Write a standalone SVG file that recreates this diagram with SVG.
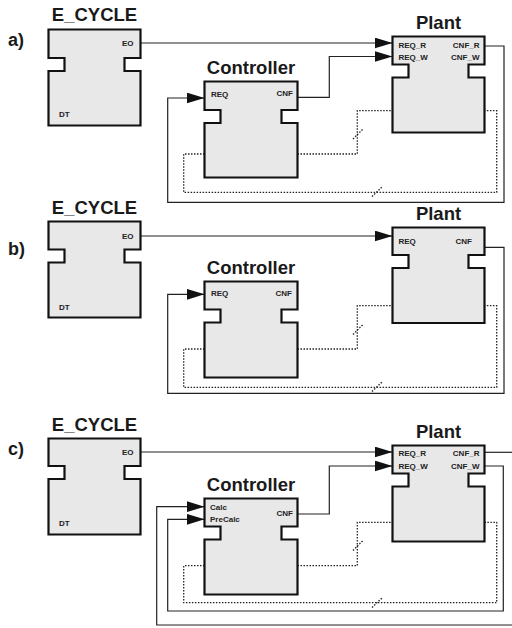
<svg xmlns="http://www.w3.org/2000/svg" width="512" height="628" viewBox="0 0 512 628">
<style>
.blk{fill:#e8e8e8;stroke:#111;stroke-width:2.2;stroke-linejoin:miter}
.title{font-family:"Liberation Sans",Arial,sans-serif;font-weight:bold;font-size:18.5px;fill:#1a1a1a;text-anchor:middle}
.sec{font-family:"Liberation Sans",Arial,sans-serif;font-weight:bold;font-size:18px;fill:#1a1a1a}
.port{font-family:"Liberation Sans",Arial,sans-serif;font-weight:bold;font-size:8px;fill:#222}
.r{text-anchor:end}
.ln{fill:none;stroke:#222;stroke-width:1.2}
.arr{marker-end:url(#ah)}
.dot{fill:none;stroke:#222;stroke-width:1.3;stroke-dasharray:1.5 1.5}
</style>
<defs>
<marker id="ah" markerUnits="userSpaceOnUse" markerWidth="18" markerHeight="11" refX="18" refY="5.5" orient="auto">
<path d="M0,0 L18,5.5 L0,11 Z" fill="#111"/>
</marker>
</defs>

<text class="sec" x="8" y="45.5">a)</text>
<text class="sec" x="8" y="255">b)</text>
<text class="sec" x="8" y="455">c)</text>

<g id="connectors">
<!-- a -->
<path class="ln arr" d="M140.5,43 H392.5"/>
<path class="ln arr" d="M297.5,97.3 H329.3 V56.5 H392.5"/>
<path class="ln arr" d="M484.5,46 H504 V202.3 H167.7 V98 H204.5"/>
<path class="dot" d="M204.5,154 H183.7 V192.3 H496.7 V110.7 H484.5"/>
<path class="dot" d="M297.5,154 H357.3 V110.7 H392.5"/>
<path class="dot" d="M353,139 L363,129"/>
<path class="dot" d="M372,196.5 L382,187"/>
<!-- b -->
<path class="ln arr" d="M140.5,236 H392.5"/>
<path class="ln arr" d="M484.5,247.3 H504 V393.3 H167.7 V294.3 H204.5"/>
<path class="dot" d="M204.5,349 H183.7 V387.3 H496.7 V305.7 H484.5"/>
<path class="dot" d="M297.5,349 H357.3 V305.7 H392.5"/>
<path class="dot" d="M353,334.5 L363,324.5"/>
<path class="dot" d="M372,391.5 L382,382"/>
<!-- c -->
<path class="ln arr" d="M140.5,452 H392.5"/>
<path class="ln arr" d="M297.5,514 H329.3 V466 H392.5"/>
<path class="ln" d="M484.5,452.3 H512"/>
<path class="ln arr" d="M484.5,466 H503.3 V611 H167.7 V519.3 H204.5"/>
<path class="ln arr" d="M512,625 H156.7 V506.7 H204.5"/>
<path class="dot" d="M204.5,565.7 H183.7 V602.7 H496.7 V522.3 H484.5"/>
<path class="dot" d="M297.5,565.7 H357.3 V522.3 H392.5"/>
<path class="dot" d="M353,550.5 L363,540.5"/>
<path class="dot" d="M372,607.5 L382,598"/>
</g>

<!-- a -->
<g id="ecycle_a">
<text class="title" x="94.5" y="21">E_CYCLE</text>
<path class="blk" d="M48.5,29.5 H140.5 V58 H124.5 V71 H140.5 V125.5 H48.5 V71 H64.5 V58 H48.5 Z"/>
<text class="port r" x="133.5" y="45.5">EO</text>
<text class="port" x="59" y="117">DT</text>
</g>
<g id="controller_a">
<text class="title" x="251" y="74">Controller</text>
<path class="blk" d="M204.5,81.5 H297.5 V110 H281.5 V123 H297.5 V177.5 H204.5 V123 H220.5 V110 H204.5 Z"/>
<text class="port" x="211" y="96.5">REQ</text>
<text class="port r" x="293" y="96">CNF</text>
</g>
<g id="plant_a">
<text class="title" x="438.5" y="29">Plant</text>
<path class="blk" d="M392.5,36.5 H484.5 V64.5 H468.5 V77.5 H484.5 V132.5 H392.5 V77.5 H408.5 V64.5 H392.5 Z"/>
<text class="port" x="398.5" y="47.5">REQ_R</text>
<text class="port" x="398.5" y="59.5">REQ_W</text>
<text class="port r" x="479.5" y="47.5">CNF_R</text>
<text class="port r" x="479.5" y="59.5">CNF_W</text>
</g>

<!-- b -->
<g id="ecycle_b">
<text class="title" x="94.5" y="214">E_CYCLE</text>
<path class="blk" d="M48.5,221.5 H140.5 V249.5 H124.5 V262.5 H140.5 V317.5 H48.5 V262.5 H64.5 V249.5 H48.5 Z"/>
<text class="port r" x="133.5" y="238.5">EO</text>
<text class="port" x="59" y="309.5">DT</text>
</g>
<g id="controller_b">
<text class="title" x="251" y="273.5">Controller</text>
<path class="blk" d="M204.5,281.5 H297.5 V309.5 H281.5 V322.5 H297.5 V377.5 H204.5 V322.5 H220.5 V309.5 H204.5 Z"/>
<text class="port" x="211" y="296">REQ</text>
<text class="port r" x="292" y="296">CNF</text>
</g>
<g id="plant_b">
<text class="title" x="438.5" y="219.5">Plant</text>
<path class="blk" d="M392.5,227.5 H484.5 V255 H468.5 V268 H484.5 V323 H392.5 V268 H408.5 V255 H392.5 Z"/>
<text class="port" x="398.5" y="243.5">REQ</text>
<text class="port r" x="472" y="243.5">CNF</text>
</g>

<!-- c -->
<g id="ecycle_c">
<text class="title" x="94.5" y="431">E_CYCLE</text>
<path class="blk" d="M48.5,438.5 H140.5 V466 H124.5 V479 H140.5 V534.5 H48.5 V479 H64.5 V466 H48.5 Z"/>
<text class="port r" x="133.5" y="454.5">EO</text>
<text class="port" x="59" y="526">DT</text>
</g>
<g id="controller_c">
<text class="title" x="251" y="490.5">Controller</text>
<path class="blk" d="M204.5,498.5 H297.5 V526.5 H281.5 V539.5 H297.5 V594.5 H204.5 V539.5 H220.5 V526.5 H204.5 Z"/>
<text class="port" x="210" y="510">Calc</text>
<text class="port" x="210" y="522">PreCalc</text>
<text class="port r" x="293" y="516">CNF</text>
</g>
<g id="plant_c">
<text class="title" x="438.5" y="438">Plant</text>
<path class="blk" d="M392.5,445.5 H484.5 V473.5 H468.5 V486.5 H484.5 V541.5 H392.5 V486.5 H408.5 V473.5 H392.5 Z"/>
<text class="port" x="398.5" y="456">REQ_R</text>
<text class="port" x="398.5" y="468.5">REQ_W</text>
<text class="port r" x="479.5" y="456">CNF_R</text>
<text class="port r" x="479.5" y="468.5">CNF_W</text>
</g>
</svg>
